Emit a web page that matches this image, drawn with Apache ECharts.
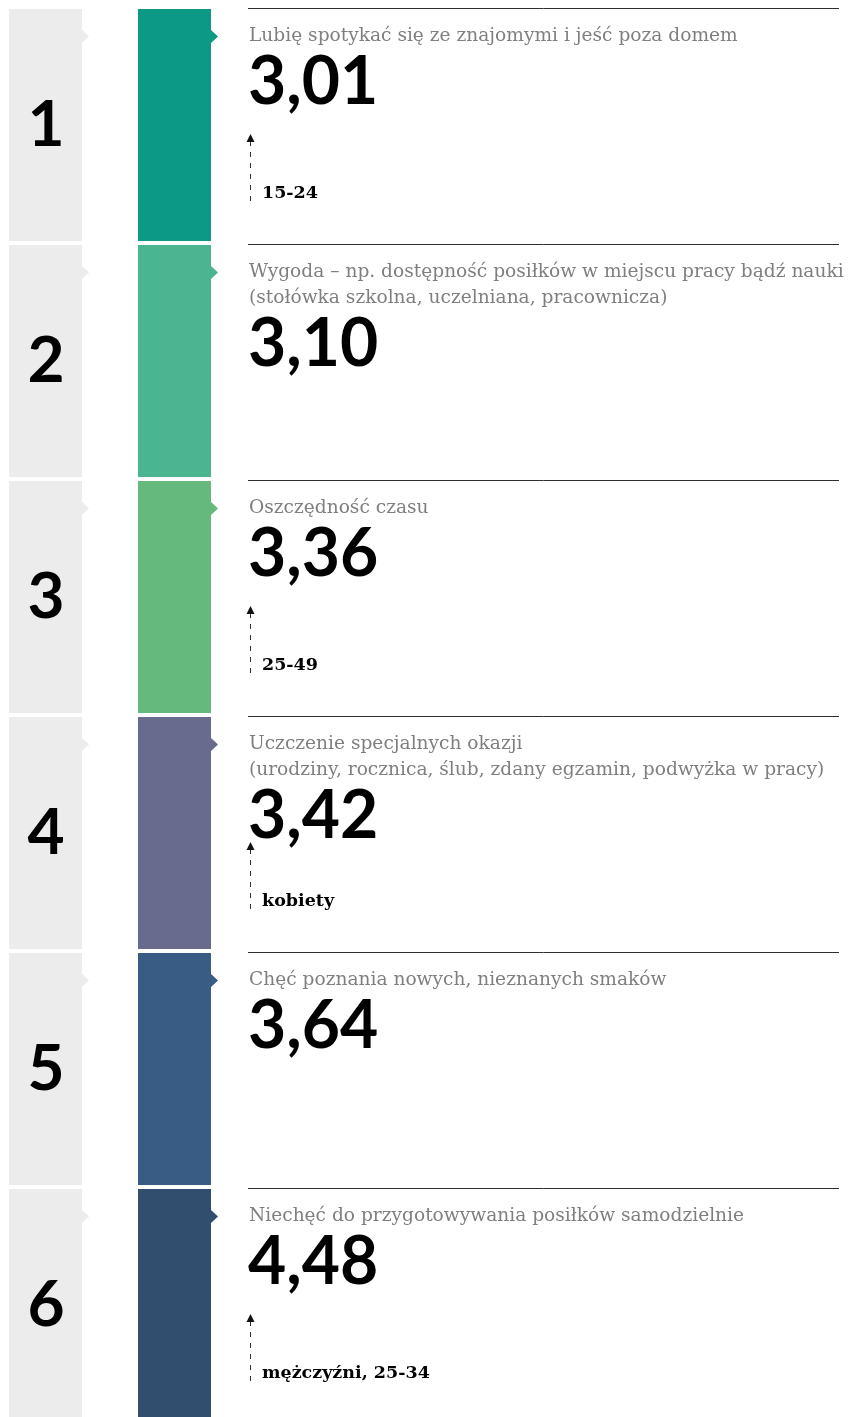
<!DOCTYPE html>
<html>
<head>
<meta charset="utf-8">
<script src="https://cdn.jsdelivr.net/npm/echarts@6/dist/echarts.min.js"></script>
<style>
  html, body { margin: 0; padding: 0; background: #ffffff; overflow: hidden; }
  #chart { width: 851px; height: 1425px; }
</style>
</head>
<body>
<div id="chart"></div>
<script>
// Ranking of reasons for eating out (average score, 1 = most important)
const ranks = ['1', '2', '3', '4', '5', '6'];
const reasons = [
  'Lubię spotykać się ze znajomymi i jeść poza domem',
  'Wygoda – np. dostępność posiłków w miejscu pracy bądź nauki\n(stołówka szkolna, uczelniana, pracownicza)',
  'Oszczędność czasu',
  'Uczczenie specjalnych okazji\n(urodziny, rocznica, ślub, zdany egzamin, podwyżka w pracy)',
  'Chęć poznania nowych, nieznanych smaków',
  'Niechęć do przygotowywania posiłków samodzielnie'
];
const scores = [3.01, 3.10, 3.36, 3.42, 3.64, 4.48];
// group that rates the reason highest ('' = none highlighted)
const groups = ['15-24', '', '25-49', 'kobiety', '', 'mężczyźni, 25-34'];
const rowColors = ['#0c9a85', '#4bb592', '#65b97d', '#686b8d', '#385c84', '#324e6f'];

const chart = echarts.init(document.getElementById('chart'), null, { renderer: 'canvas' });

function fmt(v) { return v.toFixed(2).replace('.', ','); }

function renderRow(params, api) {
  const i = params.dataIndex;
  const cs = params.coordSys;
  const x0 = cs.x;
  const center = api.coord([0, api.value(1)])[1];
  const band = api.size([0, 1])[1];
  const top = Math.round(center - band / 2);
  const h = Math.round(band) - 4;
  const lines = reasons[i].split('\n').length;
  const labelBase = top + 33;
  const valueBase = labelBase + (lines - 1) * 26 + 64;
  const children = [];

  // grey rank column with notch
  children.push({
    type: 'polygon',
    shape: { points: [[x0 + 9, top], [x0 + 82, top], [x0 + 82, top + 21], [x0 + 89, top + 27.5], [x0 + 82, top + 34], [x0 + 82, top + h], [x0 + 9, top + h]] },
    style: { fill: '#ececec' }
  });
  children.push({
    type: 'text',
    style: { text: ranks[i], x: x0 + 46, y: top + h / 2, align: 'center', verticalAlign: 'middle',
      font: 'bold 64px Lato', fill: '#000000' }
  });
  // coloured bar with pointer
  children.push({
    type: 'polygon',
    shape: { points: [[x0 + 138, top], [x0 + 211, top], [x0 + 211, top + 21], [x0 + 218, top + 27.5], [x0 + 211, top + 34], [x0 + 211, top + h], [x0 + 138, top + h]] },
    style: { fill: rowColors[i] }
  });
  // rule above the description
  children.push({
    type: 'line',
    shape: { x1: x0 + 248, y1: top - 0.5, x2: x0 + 839, y2: top - 0.5 },
    style: { stroke: '#2e2e2e', lineWidth: 1 }
  });
  // description
  children.push({
    type: 'text',
    style: { text: reasons[i], x: x0 + 249, y: top + 14, align: 'left', verticalAlign: 'top',
      font: '18.6px "DejaVu Serif"', fill: '#7f7f7f', lineHeight: 26 }
  });
  // score
  children.push({
    type: 'text',
    style: { text: fmt(api.value(0)), x: x0 + 248, y: valueBase + 10, align: 'left', verticalAlign: 'bottom',
      font: 'bold 66px Lato', fill: '#000000', lineHeight: 66 }
  });
  // highlighted group with dashed arrow
  if (groups[i]) {
    children.push({
      type: 'line',
      shape: { x1: x0 + 250.5, y1: top + 132, x2: x0 + 250.5, y2: top + 195 },
      style: { stroke: '#333333', lineWidth: 1, lineDash: [5, 6] }
    });
    children.push({
      type: 'polygon',
      shape: { points: [[x0 + 250.5, top + 125], [x0 + 254.5, top + 133], [x0 + 246.5, top + 133]] },
      style: { fill: '#111111' }
    });
    children.push({
      type: 'text',
      style: { text: groups[i], x: x0 + 262, y: top + 193, align: 'left', verticalAlign: 'bottom',
        font: 'bold 17.5px "DejaVu Serif"', fill: '#000000' }
    });
  }
  return { type: 'group', children: children };
}

chart.setOption({
  animation: false,
  backgroundColor: '#ffffff',
  grid: { left: 0, right: 0, top: 9, height: 236 * ranks.length },
  xAxis: { type: 'value', min: 0, max: 851, show: false },
  yAxis: { type: 'category', data: ranks, inverse: true, show: false },
  series: [{
    type: 'custom',
    renderItem: renderRow,
    clip: false,
    encode: { x: 0, y: 1 },
    data: scores.map((s, i) => [s, i])
  }]
});
</script>
</body>
</html>
